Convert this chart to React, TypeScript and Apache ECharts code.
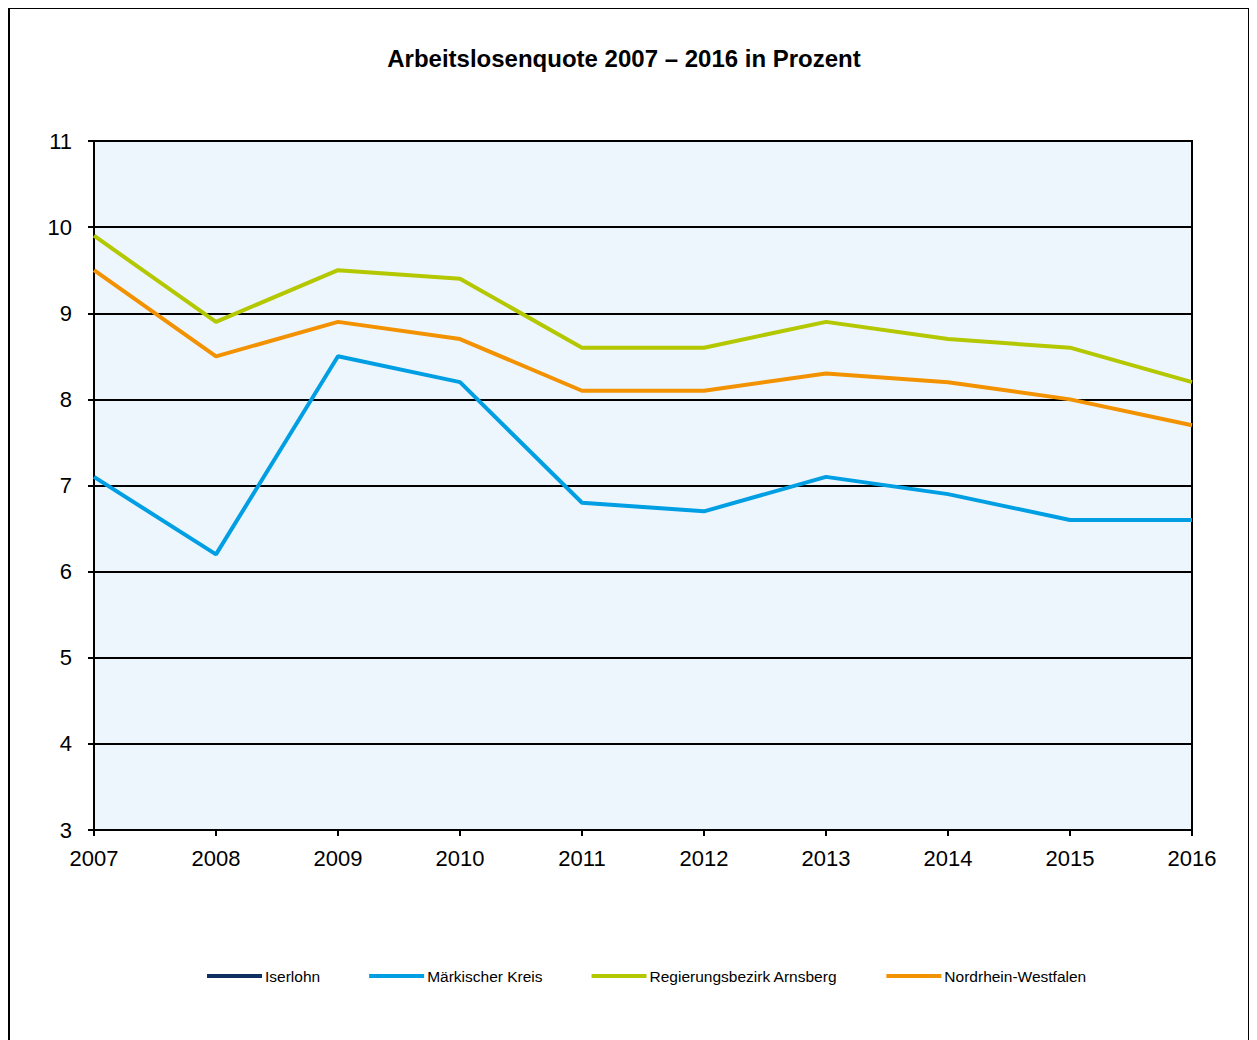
import React, { useEffect, useRef } from "react";
import * as echarts from "echarts";

const years = ["2007", "2008", "2009", "2010", "2011", "2012", "2013", "2014", "2015", "2016"];
const iserlohn: (number | null)[] = [];
const maerkischerKreis = [7.1, 6.2, 8.5, 8.2, 6.8, 6.7, 7.1, 6.9, 6.6, 6.6];
const arnsberg = [9.9, 8.9, 9.5, 9.4, 8.6, 8.6, 8.9, 8.7, 8.6, 8.2];
const nrw = [9.5, 8.5, 8.9, 8.7, 8.1, 8.1, 8.3, 8.2, 8.0, 7.7];
const seriesNames = ["Iserlohn", "Märkischer Kreis", "Regierungsbezirk Arnsberg", "Nordrhein-Westfalen"];
const colors = ["#0f2f60", "#009fe3", "#b3c800", "#f39200"];

export default function App() {
  const ref = useRef<HTMLDivElement>(null);
  useEffect(() => {
    if (!ref.current) return;
    document.body.style.overflow = "hidden";
    const chart = echarts.init(ref.current, null, { renderer: "svg" });
    const font = "'Liberation Sans', Arial, sans-serif";
    const dataSets = [iserlohn, maerkischerKreis, arnsberg, nrw];
    chart.setOption({
      animation: false,
      textStyle: { fontFamily: font },
      title: {
        text: "Arbeitslosenquote 2007 – 2016 in Prozent",
        left: 611,
        top: 33,
        textAlign: "center",
        textStyle: { fontFamily: font, fontSize: 24, fontWeight: "bold", color: "#000" },
      },
      graphic: [
        {
          type: "rect",
          shape: { x: 1, y: 0, width: 1240, height: 1100 },
          style: { fill: "none", stroke: "#000", lineWidth: 2 },
          silent: true,
          z: 100,
        },
      ],
      legend: {
        left: 194,
        top: 955,
        icon: "rect",
        itemWidth: 55,
        itemHeight: 4,
        itemGap: 49,
        textStyle: { fontFamily: font, fontSize: 15.5, color: "#000", padding: [0, 0, 0, -2] },
        data: seriesNames,
      },
      grid: {
        left: 86,
        top: 133,
        right: 65,
        bottom: 210,
        show: true,
        backgroundColor: "#eef6fd",
        borderColor: "#000",
        borderWidth: 2,
      },
      xAxis: {
        type: "category",
        data: years,
        boundaryGap: false,
        axisLine: { lineStyle: { color: "#000", width: 2 } },
        axisTick: { show: true, length: 6, lineStyle: { color: "#000", width: 2 } },
        axisLabel: { margin: 17, fontSize: 22, color: "#000", fontFamily: font },
        splitLine: { show: false },
      },
      yAxis: {
        type: "value",
        min: 3,
        max: 11,
        interval: 1,
        axisLine: { show: true, lineStyle: { color: "#000", width: 2 } },
        axisTick: { show: true, length: 6, lineStyle: { color: "#000", width: 2 } },
        axisLabel: { margin: 22, fontSize: 22, color: "#000", fontFamily: font },
        splitLine: { show: true, lineStyle: { color: "#000", width: 2 } },
      },
      series: seriesNames.map((name, i) => ({
        name,
        type: "line",
        data: dataSets[i],
        symbol: "none",
        color: colors[i],
        lineStyle: { color: colors[i], width: 4 },
        z: 3 + i,
      })),
    });
    return () => chart.dispose();
  }, []);
  return <div ref={ref} style={{ width: 1249, height: 1032 }} />;
}
